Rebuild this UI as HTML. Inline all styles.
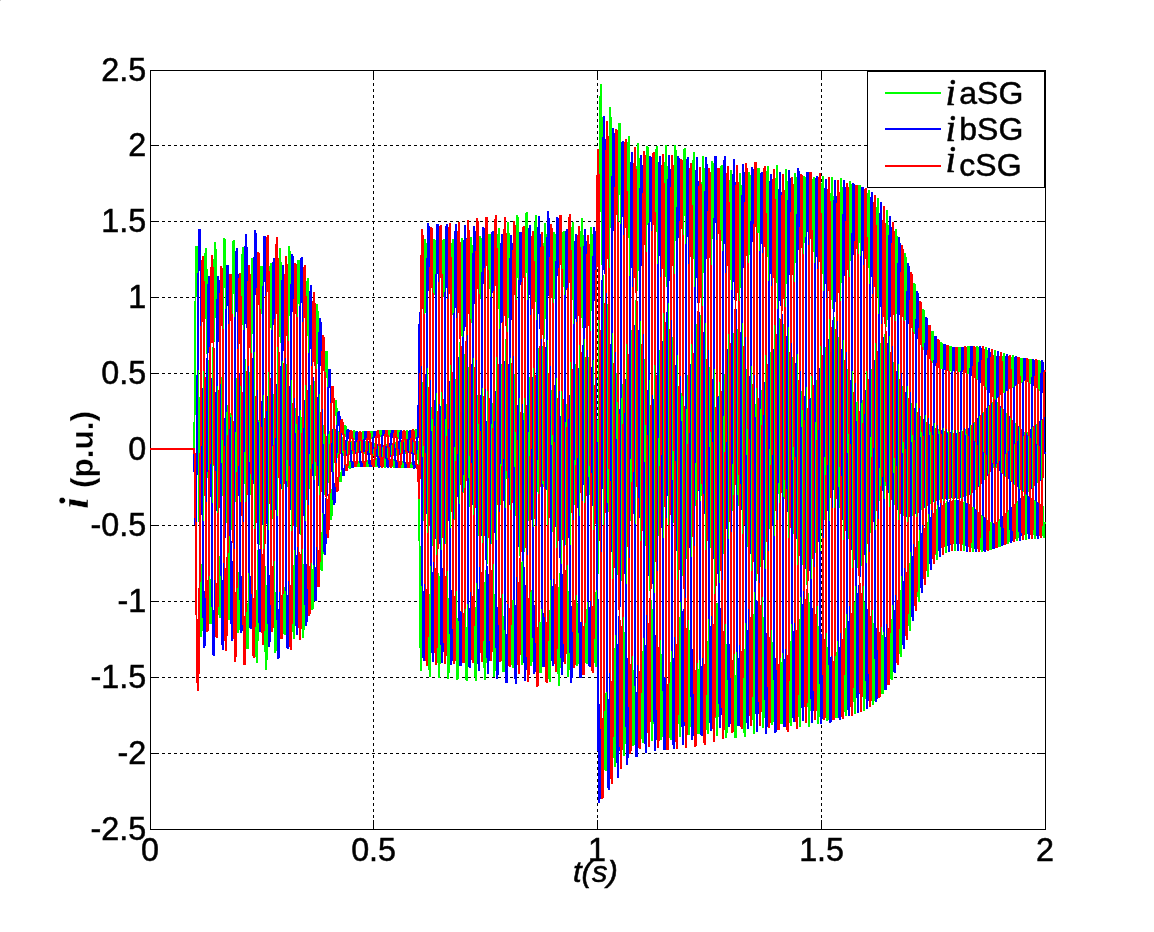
<!DOCTYPE html>
<html lang="en"><head><meta charset="utf-8"><title>i (p.u.) vs t(s)</title>
<style>
html,body{margin:0;padding:0;background:#fff;}
body{width:1154px;height:932px;overflow:hidden;font-family:"Liberation Sans",sans-serif;}
svg{display:block;}
.sans{font-family:"Liberation Sans",sans-serif;}
.serif{font-family:"Liberation Serif",serif;}
</style></head>
<body>
<svg width="1154" height="932" viewBox="0 0 1154 932">
<rect x="0" y="0" width="1154" height="932" fill="#fff"/>
<rect x="0" y="0" width="1" height="1" fill="#ccc"/>
<g shape-rendering="crispEdges">
<line x1="150" y1="145.5" x2="1045" y2="145.5" stroke="#000" stroke-width="1" stroke-dasharray="3 3"/>
<line x1="150" y1="221.5" x2="1045" y2="221.5" stroke="#000" stroke-width="1" stroke-dasharray="3 3"/>
<line x1="150" y1="297.5" x2="1045" y2="297.5" stroke="#000" stroke-width="1" stroke-dasharray="3 3"/>
<line x1="150" y1="373.5" x2="1045" y2="373.5" stroke="#000" stroke-width="1" stroke-dasharray="3 3"/>
<line x1="150" y1="449.5" x2="1045" y2="449.5" stroke="#000" stroke-width="1" stroke-dasharray="3 3"/>
<line x1="150" y1="525.5" x2="1045" y2="525.5" stroke="#000" stroke-width="1" stroke-dasharray="3 3"/>
<line x1="150" y1="601.5" x2="1045" y2="601.5" stroke="#000" stroke-width="1" stroke-dasharray="3 3"/>
<line x1="150" y1="677.5" x2="1045" y2="677.5" stroke="#000" stroke-width="1" stroke-dasharray="3 3"/>
<line x1="150" y1="753.5" x2="1045" y2="753.5" stroke="#000" stroke-width="1" stroke-dasharray="3 3"/>
<line x1="373.5" y1="830" x2="373.5" y2="70" stroke="#000" stroke-width="1" stroke-dasharray="3 3"/>
<line x1="597.5" y1="830" x2="597.5" y2="70" stroke="#000" stroke-width="1" stroke-dasharray="3 3"/>
<line x1="821.5" y1="830" x2="821.5" y2="70" stroke="#000" stroke-width="1" stroke-dasharray="3 3"/>
<rect x="150.5" y="70.5" width="895" height="759" fill="none" stroke="#000" stroke-width="1"/>
<rect x="150" y="145" width="9" height="1" fill="#000"/>
<rect x="1037" y="145" width="9" height="1" fill="#000"/>
<rect x="150" y="221" width="9" height="1" fill="#000"/>
<rect x="1037" y="221" width="9" height="1" fill="#000"/>
<rect x="150" y="297" width="9" height="1" fill="#000"/>
<rect x="1037" y="297" width="9" height="1" fill="#000"/>
<rect x="150" y="373" width="9" height="1" fill="#000"/>
<rect x="1037" y="373" width="9" height="1" fill="#000"/>
<rect x="150" y="449" width="9" height="1" fill="#000"/>
<rect x="1037" y="449" width="9" height="1" fill="#000"/>
<rect x="150" y="525" width="9" height="1" fill="#000"/>
<rect x="1037" y="525" width="9" height="1" fill="#000"/>
<rect x="150" y="601" width="9" height="1" fill="#000"/>
<rect x="1037" y="601" width="9" height="1" fill="#000"/>
<rect x="150" y="677" width="9" height="1" fill="#000"/>
<rect x="1037" y="677" width="9" height="1" fill="#000"/>
<rect x="150" y="753" width="9" height="1" fill="#000"/>
<rect x="1037" y="753" width="9" height="1" fill="#000"/>
<rect x="373" y="820" width="1" height="10" fill="#000"/>
<rect x="373" y="70" width="1" height="9" fill="#000"/>
<rect x="597" y="820" width="1" height="10" fill="#000"/>
<rect x="597" y="70" width="1" height="9" fill="#000"/>
<rect x="821" y="820" width="1" height="10" fill="#000"/>
<rect x="821" y="70" width="1" height="9" fill="#000"/>
</g>
<g shape-rendering="crispEdges">
<path fill="#00ff00" d="M150 448v2h1v-2zM151 448v2h1v-2zM152 448v2h1v-2zM153 448v2h1v-2zM154 448v2h1v-2zM155 448v2h1v-2zM156 448v2h1v-2zM157 448v2h1v-2zM158 448v2h1v-2zM159 448v2h1v-2zM160 448v2h1v-2zM161 448v2h1v-2zM162 448v2h1v-2zM163 448v2h1v-2zM164 448v2h1v-2zM165 448v2h1v-2zM166 448v2h1v-2zM167 448v2h1v-2zM168 448v2h1v-2zM169 448v2h1v-2zM170 448v2h1v-2zM171 448v2h1v-2zM172 448v2h1v-2zM173 448v2h1v-2zM174 448v2h1v-2zM175 448v2h1v-2zM176 448v2h1v-2zM177 448v2h1v-2zM178 448v2h1v-2zM179 448v2h1v-2zM180 448v2h1v-2zM181 448v2h1v-2zM182 448v2h1v-2zM183 448v2h1v-2zM184 448v2h1v-2zM185 448v2h1v-2zM186 448v2h1v-2zM187 448v2h1v-2zM188 448v2h1v-2zM189 448v2h1v-2zM190 448v2h1v-2zM191 448v2h1v-2zM192 448v2h1v-2zM193 422v28h1v-28zM194 301v149h1v-149zM195 246v169h1v-169zM196 246v51h1v-51zM197 246v145h1v-145zM198 286v236h1v-236zM199 397v219h1v-219zM200 527v110h1v-110zM201 564v73h1v-73zM202 444v187h1v-187zM203 323v237h1v-237zM204 253v185h1v-185zM205 248v71h1v-71zM206 248v106h1v-106zM207 269v209h1v-209zM208 360v223h1v-223zM209 484v140h1v-140zM210 579v45h1v-45zM211 472v152h1v-152zM212 347v229h1v-229zM213 259v207h1v-207zM214 242v100h1v-100zM215 242v76h1v-76zM216 249v187h1v-187zM217 322v230h1v-230zM218 442v173h1v-173zM219 556v62h1v-62zM220 502v116h1v-116zM221 377v215h1v-215zM222 274v222h1v-222zM223 238v133h1v-133zM224 238v50h1v-50zM225 239v160h1v-160zM226 292v231h1v-231zM227 405v201h1v-201zM228 528v92h1v-92zM229 535v85h1v-85zM230 413v196h1v-196zM231 298v232h1v-232zM232 241v166h1v-166zM233 240v54h1v-54zM234 240v132h1v-132zM235 274v228h1v-228zM236 378v226h1v-226zM237 508v125h1v-125zM238 572v61h1v-61zM239 454v176h1v-176zM240 330v238h1v-238zM241 254v194h1v-194zM242 247v78h1v-78zM243 247v106h1v-106zM244 266v218h1v-218zM245 359v241h1v-241zM246 491v158h1v-158zM247 603v46h1v-46zM248 501v148h1v-148zM249 372v234h1v-234zM250 278v217h1v-217zM251 258v108h1v-108zM252 258v76h1v-76zM253 265v194h1v-194zM254 339v246h1v-246zM255 466v191h1v-191zM256 590v73h1v-73zM257 550v113h1v-113zM258 420v221h1v-221zM259 309v236h1v-236zM260 266v148h1v-148zM261 266v48h1v-48zM262 266v162h1v-162zM263 317v244h1v-244zM264 434v218h1v-218zM265 566v104h1v-104zM266 585v85h1v-85zM267 456v204h1v-204zM268 332v248h1v-248zM269 266v184h1v-184zM270 263v65h1v-65zM271 263v126h1v-126zM272 293v226h1v-226zM273 394v228h1v-228zM274 525v128h1v-128zM275 592v61h1v-61zM276 472v179h1v-179zM277 342v246h1v-246zM278 260v206h1v-206zM279 248v89h1v-89zM280 248v95h1v-95zM281 262v207h1v-207zM282 348v235h1v-235zM283 475v159h1v-159zM284 587v48h1v-48zM285 493v142h1v-142zM286 364v231h1v-231zM287 269v218h1v-218zM288 246v113h1v-113zM289 246v70h1v-70zM290 251v186h1v-186zM291 320v240h1v-240zM292 443v189h1v-189zM293 565v74h1v-74zM294 533v106h1v-106zM295 408v210h1v-210zM296 301v226h1v-226zM297 260v142h1v-142zM298 260v44h1v-44zM299 260v151h1v-151zM300 308v227h1v-227zM301 417v204h1v-204zM302 540v98h1v-98zM303 564v74h1v-74zM304 450v180h1v-180zM305 339v220h1v-220zM306 281v163h1v-163zM307 278v58h1v-58zM308 278v102h1v-102zM309 301v188h1v-188zM310 385v193h1v-193zM311 494v116h1v-116zM312 569v41h1v-41zM313 481v128h1v-128zM314 381v186h1v-186zM315 315v161h1v-161zM316 304v74h1v-74zM317 304v60h1v-60zM318 311v139h1v-139zM319 367v163h1v-163zM320 454v116h1v-116zM321 532v39h1v-39zM322 497v74h1v-74zM323 425v129h1v-129zM324 369v126h1v-126zM325 351v72h1v-72zM326 351v27h1v-27zM327 351v79h1v-79zM328 379v104h1v-104zM329 431v85h1v-85zM330 484v36h1v-36zM331 489v31h1v-31zM332 449v67h1v-67zM333 416v72h1v-72zM334 400v49h1v-49zM335 400v16h1v-16zM336 400v31h1v-31zM337 408v50h1v-50zM338 431v46h1v-46zM339 457v25h1v-25zM340 472v10h1v-10zM341 455v27h1v-27zM342 437v36h1v-36zM343 427v29h1v-29zM344 425v13h1v-13zM345 425v12h1v-12zM346 426v25h1v-25zM347 436v27h1v-27zM348 449v19h1v-19zM349 461v8h1v-8zM350 453v16h1v-16zM351 441v24h1v-24zM352 432v22h1v-22zM353 430v12h1v-12zM354 430v10h1v-10zM355 431v21h1v-21zM356 439v23h1v-23zM357 450v17h1v-17zM358 461v6h1v-6zM359 451v16h1v-16zM360 440v23h1v-23zM361 432v21h1v-21zM362 431v10h1v-10zM363 431v11h1v-11zM364 432v22h1v-22zM365 441v23h1v-23zM366 453v14h1v-14zM367 460v7h1v-7zM368 449v18h1v-18zM369 437v25h1v-25zM370 431v19h1v-19zM371 431v8h1v-8zM372 431v13h1v-13zM373 433v23h1v-23zM374 443v22h1v-22zM375 455v12h1v-12zM376 458v9h1v-9zM377 447v20h1v-20zM378 435v25h1v-25zM379 430v18h1v-18zM380 430v7h1v-7zM381 430v16h1v-16zM382 434v25h1v-25zM383 445v22h1v-22zM384 457v11h1v-11zM385 456v12h1v-12zM386 444v22h1v-22zM387 434v24h1v-24zM388 430v15h1v-15zM389 430v7h1v-7zM390 430v19h1v-19zM391 436v25h1v-25zM392 447v20h1v-20zM393 459v9h1v-9zM394 455v13h1v-13zM395 442v23h1v-23zM396 432v24h1v-24zM397 430v13h1v-13zM398 430v9h1v-9zM399 430v21h1v-21zM400 438v25h1v-25zM401 450v18h1v-18zM402 461v7h1v-7zM403 452v16h1v-16zM404 440v24h1v-24zM405 431v23h1v-23zM406 430v11h1v-11zM407 430v11h1v-11zM408 431v22h1v-22zM409 439v25h1v-25zM410 452v16h1v-16zM411 462v6h1v-6zM412 450v18h1v-18zM413 438v25h1v-25zM414 430v21h1v-21zM415 429v10h1v-10zM416 429v14h1v-14zM417 432v28h1v-28zM418 441v100h1v-100zM419 461v187h1v-187zM420 546v125h1v-125zM421 528v143h1v-143zM422 382v256h1v-256zM423 269v252h1v-252zM424 239v136h1v-136zM425 239v74h1v-74zM426 243v205h1v-205zM427 318v271h1v-271zM428 456v214h1v-214zM429 594v83h1v-83zM430 553v124h1v-124zM431 407v246h1v-246zM432 284v262h1v-262zM433 239v161h1v-161zM434 239v56h1v-56zM435 240v183h1v-183zM436 299v268h1v-268zM437 430v233h1v-233zM438 573v105h1v-105zM439 576v102h1v-102zM440 433v231h1v-231zM441 301v269h1v-269zM442 240v186h1v-186zM443 239v58h1v-58zM444 239v158h1v-158zM445 282v262h1v-262zM446 404v249h1v-249zM447 551v128h1v-128zM448 598v81h1v-81zM449 460v213h1v-213zM450 321v272h1v-272zM451 243v209h1v-209zM452 239v76h1v-76zM453 239v134h1v-134zM454 267v253h1v-253zM455 379v261h1v-261zM456 527v153h1v-153zM457 618v62h1v-62zM458 487v192h1v-192zM459 342v272h1v-272zM460 250v229h1v-229zM461 238v98h1v-98zM462 238v110h1v-110zM463 255v238h1v-238zM464 354v269h1v-269zM465 500v180h1v-180zM466 627v54h1v-54zM467 515v166h1v-166zM468 367v266h1v-266zM469 261v246h1v-246zM470 237v124h1v-124zM471 237v86h1v-86zM472 245v218h1v-218zM473 329v273h1v-273zM474 471v206h1v-206zM475 607v74h1v-74zM476 543v138h1v-138zM477 395v255h1v-255zM478 275v261h1v-261zM479 236v152h1v-152zM480 236v63h1v-63zM481 238v193h1v-193zM482 304v272h1v-272zM483 439v229h1v-229zM484 582v98h1v-98zM485 570v110h1v-110zM486 424v239h1v-239zM487 293v271h1v-271zM488 234v183h1v-183zM489 234v55h1v-55zM490 234v162h1v-162zM491 279v265h1v-265zM492 403v249h1v-249zM493 550v127h1v-127zM494 594v83h1v-83zM495 455v216h1v-216zM496 314v275h1v-275zM497 234v213h1v-213zM498 228v81h1v-81zM499 228v130h1v-130zM500 255v250h1v-250zM501 364v264h1v-264zM502 512v160h1v-160zM503 616v56h1v-56zM504 487v185h1v-185zM505 339v273h1v-273zM506 239v240h1v-240zM507 222v111h1v-111zM508 222v96h1v-96zM509 233v227h1v-227zM510 323v272h1v-272zM511 467v198h1v-198zM512 600v68h1v-68zM513 523v145h1v-145zM514 374v259h1v-259zM515 254v262h1v-262zM516 215v152h1v-152zM517 215v63h1v-63zM518 217v193h1v-193zM519 283v273h1v-273zM520 418v233h1v-233zM521 562v103h1v-103zM522 559v106h1v-106zM523 413v237h1v-237zM524 277v275h1v-275zM525 213v192h1v-192zM526 212v61h1v-61zM527 212v158h1v-158zM528 254v267h1v-267zM529 377v259h1v-259zM530 528v138h1v-138zM531 590v76h1v-76zM532 451v211h1v-211zM533 307v278h1v-278zM534 222v222h1v-222zM535 215v87h1v-87zM536 215v126h1v-126zM537 239v253h1v-253zM538 348v273h1v-273zM539 499v174h1v-174zM540 622v51h1v-51zM541 494v179h1v-179zM542 346v272h1v-272zM543 243v244h1v-244zM544 223v116h1v-116zM545 223v96h1v-96zM546 234v230h1v-230zM547 325v280h1v-280zM548 472v207h1v-207zM549 610v72h1v-72zM550 539v143h1v-143zM551 390v259h1v-259zM552 270v262h1v-262zM553 232v150h1v-150zM554 232v67h1v-67zM555 234v200h1v-200zM556 304v277h1v-277zM557 441v233h1v-233zM558 587v99h1v-99zM559 573v113h1v-113zM560 425v243h1v-243zM561 292v275h1v-275zM562 232v186h1v-186zM563 231v56h1v-56zM564 231v165h1v-165zM565 278v267h1v-267zM566 404v249h1v-249zM567 552v125h1v-125zM568 591v86h1v-86zM569 448v222h1v-222zM570 306v279h1v-279zM571 227v213h1v-213zM572 222v78h1v-78zM573 222v135h1v-135zM574 251v254h1v-254zM575 364v262h1v-262zM576 512v154h1v-154zM577 603v63h1v-63zM578 470v194h1v-194zM579 324v274h1v-274zM580 231v232h1v-232zM581 218v100h1v-100zM582 218v110h1v-110zM583 235v238h1v-238zM584 334v271h1v-271zM585 480v183h1v-183zM586 609v55h1v-55zM587 502v162h1v-162zM588 357v261h1v-261zM589 251v244h1v-244zM590 227v123h1v-123zM591 227v84h1v-84zM592 234v215h1v-215zM593 316v270h1v-270zM594 456v207h1v-207zM595 592v75h1v-75zM596 578v89h1v-89zM597 420v219h1v-219zM598 221v353h1v-353zM599 96v314h1v-314zM600 84v128h1v-128zM601 84v181h1v-181zM602 117v371h1v-371zM603 275v410h1v-410zM604 500v270h1v-270zM605 693v78h1v-78zM606 523v248h1v-248zM607 304v395h1v-395zM608 144v368h1v-368zM609 107v186h1v-186zM610 107v121h1v-121zM611 117v315h1v-315zM612 237v402h1v-402zM613 444v314h1v-314zM614 648v119h1v-119zM615 585v182h1v-182zM616 373v358h1v-358zM617 193v382h1v-382zM618 123v239h1v-239zM619 123v72h1v-72zM620 123v250h1v-250zM621 201v380h1v-380zM622 384v343h1v-343zM623 591v165h1v-165zM624 632v124h1v-124zM625 437v307h1v-307zM626 246v378h1v-378zM627 142v284h1v-284zM628 136v102h1v-102zM629 136v184h1v-184zM630 177v344h1v-344zM631 330v358h1v-358zM632 532v214h1v-214zM633 670v76h1v-76zM634 496v249h1v-249zM635 300v364h1v-364zM636 166v320h1v-320zM637 143v148h1v-148zM638 143v128h1v-128zM639 158v303h1v-303zM640 279v364h1v-364zM641 471v268h1v-268zM642 651v92h1v-92zM643 555v188h1v-188zM644 359v339h1v-339zM645 199v347h1v-347zM646 146v203h1v-203zM647 146v79h1v-79zM648 147v251h1v-251zM649 232v359h1v-359zM650 408v312h1v-312zM651 600v141h1v-141zM652 609v132h1v-132zM653 419v305h1v-305zM654 239v361h1v-361zM655 149v260h1v-260zM656 146v86h1v-86zM657 146v194h1v-194zM658 194v342h1v-342zM659 350v342h1v-342zM660 546v194h1v-194zM661 654v86h1v-86zM662 477v260h1v-260zM663 285v362h1v-362zM664 162v305h1v-305zM665 145v132h1v-132zM666 145v142h1v-142zM667 166v313h1v-313zM668 296v359h1v-359zM669 489v249h1v-249zM670 662v78h1v-78zM671 533v207h1v-207zM672 337v347h1v-347zM673 186v337h1v-337zM674 145v182h1v-182zM675 145v96h1v-96zM676 150v270h1v-270zM677 248v361h1v-361zM678 431v293h1v-293zM679 617v120h1v-120zM680 585v152h1v-152zM681 393v318h1v-318zM682 222v354h1v-354zM683 149v233h1v-233zM684 148v68h1v-68zM685 148v217h1v-217zM686 211v348h1v-348zM687 375v326h1v-326zM688 568v167h1v-167zM689 630v105h1v-105zM690 450v277h1v-277zM691 266v357h1v-357zM692 160v280h1v-280zM693 152v107h1v-107zM694 152v163h1v-163zM695 184v322h1v-322zM696 324v346h1v-346zM697 516v218h1v-218zM698 669v65h1v-65zM699 506v228h1v-228zM700 315v348h1v-348zM701 182v314h1v-314zM702 156v151h1v-151zM703 156v117h1v-117zM704 168v288h1v-288zM705 281v353h1v-353zM706 466v264h1v-264zM707 641v93h1v-93zM708 557v177h1v-177zM709 367v327h1v-327zM710 212v336h1v-336zM711 161v196h1v-196zM712 161v78h1v-78zM713 163v245h1v-245zM714 246v349h1v-349zM715 418v300h1v-300zM716 603v133h1v-133zM717 603v133h1v-133zM718 418v299h1v-299zM719 248v347h1v-347zM720 166v242h1v-242zM721 165v76h1v-76zM722 165v199h1v-199zM723 218v336h1v-336zM724 374v325h1v-325zM725 563v175h1v-175zM726 644v94h1v-94zM727 469v264h1v-264zM728 288v348h1v-348zM729 180v279h1v-279zM730 170v110h1v-110zM731 170v154h1v-154zM732 199v312h1v-312zM733 333v340h1v-340zM734 521v217h1v-217zM735 675v63h1v-63zM736 515v223h1v-223zM737 329v340h1v-340zM738 198v308h1v-308zM739 173v147h1v-147zM740 173v115h1v-115zM741 185v283h1v-283zM742 296v346h1v-346zM743 478v255h1v-255zM744 649v88h1v-88zM745 556v181h1v-181zM746 369v325h1v-325zM747 219v328h1v-328zM748 172v187h1v-187zM749 172v83h1v-83zM750 175v249h1v-249zM751 262v344h1v-344zM752 434v286h1v-286zM753 614v120h1v-120zM754 590v144h1v-144zM755 404v306h1v-306zM756 239v342h1v-342zM757 168v227h1v-227zM758 168v65h1v-65zM759 168v213h1v-213zM760 230v337h1v-337zM761 390v311h1v-311zM762 576v152h1v-152zM763 617v111h1v-111zM764 439v279h1v-279zM765 264v346h1v-346zM766 171v258h1v-258zM767 166v91h1v-91zM768 166v176h1v-176zM769 207v322h1v-322zM770 352v326h1v-326zM771 538v187h1v-187zM772 642v83h1v-83zM773 473v249h1v-249zM774 291v344h1v-344zM775 178v285h1v-285zM776 165v118h1v-118zM777 165v144h1v-144zM778 189v305h1v-305zM779 318v338h1v-338zM780 503v221h1v-221zM781 662v62h1v-62zM782 508v216h1v-216zM783 324v335h1v-335zM784 194v305h1v-305zM785 169v146h1v-146zM786 169v115h1v-115zM787 181v282h1v-282zM788 292v343h1v-343zM789 473v250h1v-250zM790 641v85h1v-85zM791 543v183h1v-183zM792 357v324h1v-324zM793 213v321h1v-321zM794 173v175h1v-175zM795 173v90h1v-90zM796 177v256h1v-256zM797 269v342h1v-342zM798 443v274h1v-274zM799 619v108h1v-108zM800 574v153h1v-153zM801 391v307h1v-307zM802 235v330h1v-330zM803 176v205h1v-205zM804 176v67h1v-67zM805 177v226h1v-226zM806 249v336h1v-336zM807 412v295h1v-295zM808 593v134h1v-134zM809 602v125h1v-125zM810 424v287h1v-287zM811 258v336h1v-336zM812 179v235h1v-235zM813 177v75h1v-75zM814 177v194h1v-194zM815 229v324h1v-324zM816 380v310h1v-310zM817 562v162h1v-162zM818 626v98h1v-98zM819 455v262h1v-262zM820 281v338h1v-338zM821 183v262h1v-262zM822 176v98h1v-98zM823 176v162h1v-162zM824 210v310h1v-310zM825 347v323h1v-323zM826 529v192h1v-192zM827 647v74h1v-74zM828 486v234h1v-234zM829 308v333h1v-333zM830 193v283h1v-283zM831 177v123h1v-123zM832 177v132h1v-132zM833 196v290h1v-290zM834 317v330h1v-330zM835 496v222h1v-222zM836 652v66h1v-66zM837 517v201h1v-201zM838 337v324h1v-324zM839 206v302h1v-302zM840 178v150h1v-150zM841 178v105h1v-105zM842 187v266h1v-266zM843 290v331h1v-331zM844 463v249h1v-249zM845 628v88h1v-88zM846 547v169h1v-169zM847 369v308h1v-308zM848 226v313h1v-313zM849 181v179h1v-179zM850 181v80h1v-80zM851 184v238h1v-238zM852 267v328h1v-328zM853 431v271h1v-271zM854 602v112h1v-112zM855 576v138h1v-138zM856 402v289h1v-289zM857 248v320h1v-320zM858 185v208h1v-208zM859 185v58h1v-58zM860 185v206h1v-206zM861 248v318h1v-318zM862 400v287h1v-287zM863 573v138h1v-138zM864 602v109h1v-109zM865 434v265h1v-265zM866 274v320h1v-320zM867 193v232h1v-232zM868 190v78h1v-78zM869 190v171h1v-171zM870 232v301h1v-301zM871 369v298h1v-298zM872 541v164h1v-164zM873 623v82h1v-82zM874 467v234h1v-234zM875 304v312h1v-312zM876 207v251h1v-251zM877 198v99h1v-99zM878 198v138h1v-138zM879 224v277h1v-277zM880 343v298h1v-298zM881 509v185h1v-185zM882 635v59h1v-59zM883 494v200h1v-200zM884 334v296h1v-296zM885 227v259h1v-259zM886 210v117h1v-117zM887 210v110h1v-110zM888 225v249h1v-249zM889 327v287h1v-287zM890 482v197h1v-197zM891 619v61h1v-61zM892 513v167h1v-167zM893 362v271h1v-271zM894 253v252h1v-252zM895 229v126h1v-126zM896 229v85h1v-85zM897 236v216h1v-216zM898 320v265h1v-265zM899 459v195h1v-195zM900 590v67h1v-67zM901 522v135h1v-135zM902 386v239h1v-239zM903 281v235h1v-235zM904 253v127h1v-127zM905 253v67h1v-67zM906 257v182h1v-182zM907 324v235h1v-235zM908 445v181h1v-181zM909 563v68h1v-68zM910 521v110h1v-110zM911 403v204h1v-204zM912 310v206h1v-206zM913 283v115h1v-115zM914 283v51h1v-51zM915 284v150h1v-150zM916 337v200h1v-200zM917 439v158h1v-158zM918 541v61h1v-61zM919 514v88h1v-88zM920 416v169h1v-169zM921 336v174h1v-174zM922 309v103h1v-103zM923 309v41h1v-41zM924 310v122h1v-122zM925 352v167h1v-167zM926 436v135h1v-135zM927 522v55h1v-55zM928 507v70h1v-70zM929 424v140h1v-140zM930 355v149h1v-149zM931 331v90h1v-90zM932 331v32h1v-32zM933 331v101h1v-101zM934 364v143h1v-143zM935 435v120h1v-120zM936 509v51h1v-51zM937 502v58h1v-58zM938 429v122h1v-122zM939 366v134h1v-134zM940 342v85h1v-85zM941 342v27h1v-27zM942 343v88h1v-88zM943 370v131h1v-131zM944 434v113h1v-113zM945 503v50h1v-50zM946 501v52h1v-52zM947 432v114h1v-114zM948 371v128h1v-128zM949 346v83h1v-83zM950 346v25h1v-25zM951 346v84h1v-84zM952 372v127h1v-127zM953 433v111h1v-111zM954 500v51h1v-51zM955 500v51h1v-51zM956 433v111h1v-111zM957 372v127h1v-127zM958 347v83h1v-83zM959 347v25h1v-25zM960 347v84h1v-84zM961 373v127h1v-127zM962 434v111h1v-111zM963 502v49h1v-49zM964 498v53h1v-53zM965 429v115h1v-115zM966 369v127h1v-127zM967 346v81h1v-81zM968 346v28h1v-28zM969 346v90h1v-90zM970 375v130h1v-130zM971 438v110h1v-110zM972 507v45h1v-45zM973 492v60h1v-60zM974 422v120h1v-120zM975 364v126h1v-126zM976 346v73h1v-73zM977 346v34h1v-34zM978 347v99h1v-99zM979 382v131h1v-131zM980 448v102h1v-102zM981 515v37h1v-37zM982 483v69h1v-69zM983 412v124h1v-124zM984 359v121h1v-121zM985 347v62h1v-62zM986 347v43h1v-43zM987 350v107h1v-107zM988 391v129h1v-129zM989 459v91h1v-91zM990 522v28h1v-28zM991 470v80h1v-80zM992 402v126h1v-126zM993 356v112h1v-112zM994 350v50h1v-50zM995 350v51h1v-51zM996 357v111h1v-111zM997 402v124h1v-124zM998 470v77h1v-77zM999 519v28h1v-28zM1000 460v87h1v-87zM1001 395v123h1v-123zM1002 356v101h1v-101zM1003 353v40h1v-40zM1004 353v58h1v-58zM1005 364v113h1v-113zM1006 413v116h1v-116zM1007 479v65h1v-65zM1008 510v34h1v-34zM1009 450v92h1v-92zM1010 389v120h1v-120zM1011 357v90h1v-90zM1012 355v33h1v-33zM1013 355v66h1v-66zM1014 371v114h1v-114zM1015 423v108h1v-108zM1016 486v55h1v-55zM1017 501v40h1v-40zM1018 440v98h1v-98zM1019 383v117h1v-117zM1020 358v80h1v-80zM1021 358v25h1v-25zM1022 358v72h1v-72zM1023 378v114h1v-114zM1024 432v102h1v-102zM1025 494v46h1v-46zM1026 493v47h1v-47zM1027 432v101h1v-101zM1028 379v113h1v-113zM1029 359v71h1v-71zM1030 359v25h1v-25zM1031 359v80h1v-80zM1032 385v114h1v-114zM1033 441v94h1v-94zM1034 500v39h1v-39zM1035 485v54h1v-54zM1036 424v105h1v-105zM1037 374v109h1v-109zM1038 360v62h1v-62zM1039 360v31h1v-31zM1040 361v86h1v-86zM1041 391v114h1v-114zM1042 449v87h1v-87zM1043 506v32h1v-32zM1044 522v16h1v-16zM1045 522v2h1v-2z"/>
<path fill="#0000ff" d="M150 448v2h1v-2zM151 448v2h1v-2zM152 448v2h1v-2zM153 448v2h1v-2zM154 448v2h1v-2zM155 448v2h1v-2zM156 448v2h1v-2zM157 448v2h1v-2zM158 448v2h1v-2zM159 448v2h1v-2zM160 448v2h1v-2zM161 448v2h1v-2zM162 448v2h1v-2zM163 448v2h1v-2zM164 448v2h1v-2zM165 448v2h1v-2zM166 448v2h1v-2zM167 448v2h1v-2zM168 448v2h1v-2zM169 448v2h1v-2zM170 448v2h1v-2zM171 448v2h1v-2zM172 448v2h1v-2zM173 448v2h1v-2zM174 448v2h1v-2zM175 448v2h1v-2zM176 448v2h1v-2zM177 448v2h1v-2zM178 448v2h1v-2zM179 448v2h1v-2zM180 448v2h1v-2zM181 448v2h1v-2zM182 448v2h1v-2zM183 448v2h1v-2zM184 448v2h1v-2zM185 448v2h1v-2zM186 448v2h1v-2zM187 448v2h1v-2zM188 448v2h1v-2zM189 448v2h1v-2zM190 448v2h1v-2zM191 448v2h1v-2zM192 448v2h1v-2zM193 448v24h1v-24zM194 448v77h1v-77zM195 476v49h1v-49zM196 375v150h1v-150zM197 273v202h1v-202zM198 229v141h1v-141zM199 229v42h1v-42zM200 229v153h1v-153zM201 275v240h1v-240zM202 388v230h1v-230zM203 521v127h1v-127zM204 591v57h1v-57zM205 478v168h1v-168zM206 358v229h1v-229zM207 284v188h1v-188zM208 276v77h1v-77zM209 276v97h1v-97zM210 292v205h1v-205zM211 378v229h1v-229zM212 503v152h1v-152zM213 610v46h1v-46zM214 517v139h1v-139zM215 392v224h1v-224zM216 299v212h1v-212zM217 276v110h1v-110zM218 276v66h1v-66zM219 280v178h1v-178zM220 346v230h1v-230zM221 463v182h1v-182zM222 580v70h1v-70zM223 544v106h1v-106zM224 418v212h1v-212zM225 309v229h1v-229zM226 265v147h1v-147zM227 265v41h1v-41zM228 265v147h1v-147zM229 309v227h1v-227zM230 417v207h1v-207zM231 541v100h1v-100zM232 561v80h1v-80zM233 438v195h1v-195zM234 317v240h1v-240zM235 251v181h1v-181zM236 248v64h1v-64zM237 248v119h1v-119zM238 274v222h1v-222zM239 373v227h1v-227zM240 502v131h1v-131zM241 576v57h1v-57zM242 459v172h1v-172zM243 330v242h1v-242zM244 246v206h1v-206zM245 234v90h1v-90zM246 234v94h1v-94zM247 247v208h1v-208zM248 333v240h1v-240zM249 462v166h1v-166zM250 576v53h1v-53zM251 490v139h1v-139zM252 358v233h1v-233zM253 257v227h1v-227zM254 230v122h1v-122zM255 230v65h1v-65zM256 233v183h1v-183zM257 299v245h1v-245zM258 422v201h1v-201zM259 549v83h1v-83zM260 531v101h1v-101zM261 401v215h1v-215zM262 286v239h1v-239zM263 236v159h1v-159zM264 236v46h1v-46zM265 236v153h1v-153zM266 281v243h1v-243zM267 396v228h1v-228zM268 530v117h1v-117zM269 575v72h1v-72zM270 453v189h1v-189zM271 330v241h1v-241zM272 262v184h1v-184zM273 258v67h1v-67zM274 258v120h1v-120zM275 284v226h1v-226zM276 384v236h1v-236zM277 516v143h1v-143zM278 609v50h1v-50zM279 495v163h1v-163zM280 366v239h1v-239zM281 280v209h1v-209zM282 265v96h1v-96zM283 265v86h1v-86zM284 276v199h1v-199zM285 356v235h1v-235zM286 481v167h1v-167zM287 595v54h1v-54zM288 516v133h1v-133zM289 386v229h1v-229zM290 284v226h1v-226zM291 254v126h1v-126zM292 254v58h1v-58zM293 256v171h1v-171zM294 316v234h1v-234zM295 433v193h1v-193zM296 555v80h1v-80zM297 539v96h1v-96zM298 416v203h1v-203zM299 306v228h1v-228zM300 258v152h1v-152zM301 257v46h1v-46zM302 257v137h1v-137zM303 297v219h1v-219zM304 400v205h1v-205zM305 521v105h1v-105zM306 564v62h1v-62zM307 459v163h1v-163zM308 353v208h1v-208zM309 291v163h1v-163zM310 285v64h1v-64zM311 285v88h1v-88zM312 302v174h1v-174zM313 377v188h1v-188zM314 480v121h1v-121zM315 567v34h1v-34zM316 490v111h1v-111zM317 397v170h1v-170zM318 332v154h1v-154zM319 318v76h1v-76zM320 318v48h1v-48zM321 322v119h1v-119zM322 368v145h1v-145zM323 444v108h1v-108zM324 514v41h1v-41zM325 498v57h1v-57zM326 436v108h1v-108zM327 387v109h1v-109zM328 369v65h1v-65zM329 369v19h1v-19zM330 369v59h1v-59zM331 388v84h1v-84zM332 429v71h1v-71zM333 472v33h1v-33zM334 483v22h1v-22zM335 453v50h1v-50zM336 425v58h1v-58zM337 412v41h1v-41zM338 411v15h1v-15zM339 411v22h1v-22zM340 416v38h1v-38zM341 433v37h1v-37zM342 453v23h1v-23zM343 468v8h1v-8zM344 455v21h1v-21zM345 440v29h1v-29zM346 430v26h1v-26zM347 429v12h1v-12zM348 429v10h1v-10zM349 430v21h1v-21zM350 437v25h1v-25zM351 450v18h1v-18zM352 461v7h1v-7zM353 453v15h1v-15zM354 441v23h1v-23zM355 432v22h1v-22zM356 431v11h1v-11zM357 431v10h1v-10zM358 432v20h1v-20zM359 439v24h1v-24zM360 451v16h1v-16zM361 461v6h1v-6zM362 451v16h1v-16zM363 439v24h1v-24zM364 431v21h1v-21zM365 431v9h1v-9zM366 431v12h1v-12zM367 432v23h1v-23zM368 441v23h1v-23zM369 453v14h1v-14zM370 460v7h1v-7zM371 448v19h1v-19zM372 437v24h1v-24zM373 431v18h1v-18zM374 431v7h1v-7zM375 431v14h1v-14zM376 434v23h1v-23zM377 444v22h1v-22zM378 456v12h1v-12zM379 458v10h1v-10zM380 446v21h1v-21zM381 435v24h1v-24zM382 430v17h1v-17zM383 430v6h1v-6zM384 430v17h1v-17zM385 435v24h1v-24zM386 446v21h1v-21zM387 458v10h1v-10zM388 456v12h1v-12zM389 443v23h1v-23zM390 433v24h1v-24zM391 430v15h1v-15zM392 430v8h1v-8zM393 430v19h1v-19zM394 436v25h1v-25zM395 448v20h1v-20zM396 460v8h1v-8zM397 454v14h1v-14zM398 441v24h1v-24zM399 432v23h1v-23zM400 430v12h1v-12zM401 430v9h1v-9zM402 431v21h1v-21zM403 438v25h1v-25zM404 450v18h1v-18zM405 462v6h1v-6zM406 452v16h1v-16zM407 439v25h1v-25zM408 431v22h1v-22zM409 430v10h1v-10zM410 430v11h1v-11zM411 431v23h1v-23zM412 440v25h1v-25zM413 453v16h1v-16zM414 461v8h1v-8zM415 449v19h1v-19zM416 437v26h1v-26zM417 405v45h1v-45zM418 324v114h1v-114zM419 312v90h1v-90zM420 312v138h1v-138zM421 329v257h1v-257zM422 457v201h1v-201zM423 591v70h1v-70zM424 521v140h1v-140zM425 374v254h1v-254zM426 258v256h1v-256zM427 223v145h1v-145zM428 223v68h1v-68zM429 226v198h1v-198zM430 296v270h1v-270zM431 431v222h1v-222zM432 572v90h1v-90zM433 545v117h1v-117zM434 400v242h1v-242zM435 274v265h1v-265zM436 224v169h1v-169zM437 224v50h1v-50zM438 224v175h1v-175zM439 278v266h1v-266zM440 406v239h1v-239zM441 550v113h1v-113zM442 568v95h1v-95zM443 427v225h1v-225zM444 292v271h1v-271zM445 226v193h1v-193zM446 224v64h1v-64zM447 224v150h1v-150zM448 262v259h1v-259zM449 381v253h1v-253zM450 528v137h1v-137zM451 590v75h1v-75zM452 454v207h1v-207zM453 313v272h1v-272zM454 231v216h1v-216zM455 224v84h1v-84zM456 224v126h1v-126zM457 249v248h1v-248zM458 357v264h1v-264zM459 504v162h1v-162zM460 611v55h1v-55zM461 482v184h1v-184zM462 337v269h1v-269zM463 240v235h1v-235zM464 225v106h1v-106zM465 225v102h1v-102zM466 238v232h1v-232zM467 333v271h1v-271zM468 478v189h1v-189zM469 608v60h1v-60zM470 512v156h1v-156zM471 364v263h1v-263zM472 253v252h1v-252zM473 226v132h1v-132zM474 226v78h1v-78zM475 231v211h1v-211zM476 309v274h1v-274zM477 450v214h1v-214zM478 589v82h1v-82zM479 542v129h1v-129zM480 395v250h1v-250zM481 272v264h1v-264zM482 227v161h1v-161zM483 227v57h1v-57zM484 228v185h1v-185zM485 288v272h1v-272zM486 421v237h1v-237zM487 566v108h1v-108zM488 574v100h1v-100zM489 431v230h1v-230zM490 297v271h1v-271zM491 232v192h1v-192zM492 231v62h1v-62zM493 231v153h1v-153zM494 271v262h1v-262zM495 391v257h1v-257zM496 540v139h1v-139zM497 607v72h1v-72zM498 471v204h1v-204zM499 329v273h1v-273zM500 243v221h1v-221zM501 234v89h1v-89zM502 234v120h1v-120zM503 256v245h1v-245zM504 361v269h1v-269zM505 508v175h1v-175zM506 634v49h1v-49zM507 512v171h1v-171zM508 364v268h1v-268zM509 258v247h1v-247zM510 235v123h1v-123zM511 235v85h1v-85zM512 243v217h1v-217zM513 326v274h1v-274zM514 467v212h1v-212zM515 605v79h1v-79zM516 554v130h1v-130zM517 405v252h1v-252zM518 280v267h1v-267zM519 232v166h1v-166zM520 232v53h1v-53zM521 232v181h1v-181zM522 290v271h1v-271zM523 420v243h1v-243zM524 567v114h1v-114zM525 585v96h1v-96zM526 440v230h1v-230zM527 300v279h1v-279zM528 228v204h1v-204zM529 225v70h1v-70zM530 225v145h1v-145zM531 259v261h1v-261zM532 377v261h1v-261zM533 527v147h1v-147zM534 605v69h1v-69zM535 468v204h1v-204zM536 320v280h1v-280zM537 227v233h1v-233zM538 216v98h1v-98zM539 216v113h1v-113zM540 234v243h1v-243zM541 336v273h1v-273zM542 484v183h1v-183zM543 613v54h1v-54zM544 498v169h1v-169zM545 347v271h1v-271zM546 237v253h1v-253zM547 211v129h1v-129zM548 211v85h1v-85zM549 218v219h1v-219zM550 301v279h1v-279zM551 445v216h1v-216zM552 586v80h1v-80zM553 534v132h1v-132zM554 385v254h1v-254zM555 261v266h1v-266zM556 217v161h1v-161zM557 217v59h1v-59zM558 218v190h1v-190zM559 281v277h1v-277zM560 416v242h1v-242zM561 564v111h1v-111zM562 574v101h1v-101zM563 430v232h1v-232zM564 295v273h1v-273zM565 231v191h1v-191zM566 229v61h1v-61zM567 229v159h1v-159zM568 271v267h1v-267zM569 395v258h1v-258zM570 545v138h1v-138zM571 606v77h1v-77zM572 468v210h1v-210zM573 324v277h1v-277zM574 241v219h1v-219zM575 234v85h1v-85zM576 234v127h1v-127zM577 259v249h1v-249zM578 368v265h1v-265zM579 516v162h1v-162zM580 622v56h1v-56zM581 492v186h1v-186zM582 345v272h1v-272zM583 246v239h1v-239zM584 229v110h1v-110zM585 229v99h1v-99zM586 241v229h1v-229zM587 334v268h1v-268zM588 477v189h1v-189zM589 607v60h1v-60zM590 513v154h1v-154zM591 367v259h1v-259zM592 256v250h1v-250zM593 227v133h1v-133zM594 227v74h1v-74zM595 231v204h1v-204zM596 306v284h1v-284zM597 442v309h1v-309zM598 599v204h1v-204zM599 704v99h1v-99zM600 502v297h1v-297zM601 280v416h1v-416zM602 137v352h1v-352zM603 116v154h1v-154zM604 116v158h1v-158zM605 139v352h1v-352zM606 284v408h1v-408zM607 503v285h1v-285zM608 699v91h1v-91zM609 563v227h1v-227zM610 344v386h1v-386zM611 176v376h1v-376zM612 128v205h1v-205zM613 128v103h1v-103zM614 133v294h1v-294zM615 239v396h1v-396zM616 439v324h1v-324zM617 644v134h1v-134zM618 616v162h1v-162zM619 409v342h1v-342zM620 224v383h1v-383zM621 142v256h1v-256zM622 141v76h1v-76zM623 141v227h1v-227zM624 206v368h1v-368zM625 379v348h1v-348zM626 584v181h1v-181zM627 658v107h1v-107zM628 470v288h1v-288zM629 276v374h1v-374zM630 162v297h1v-297zM631 152v116h1v-116zM632 152v164h1v-164zM633 183v331h1v-331zM634 325v361h1v-361zM635 524v233h1v-233zM636 692v65h1v-65zM637 528v229h1v-229zM638 330v358h1v-358zM639 188v330h1v-330zM640 155v166h1v-166zM641 155v111h1v-111zM642 165v286h1v-286zM643 274v364h1v-364zM644 462v282h1v-282zM645 645v108h1v-108zM646 585v168h1v-168zM647 390v329h1v-329zM648 223v353h1v-353zM649 156v224h1v-224zM650 156v66h1v-66zM651 157v231h1v-231zM652 228v356h1v-356zM653 399v323h1v-323zM654 593v158h1v-158zM655 635v116h1v-116zM656 449v291h1v-291zM657 264v363h1v-363zM658 162v276h1v-276zM659 156v100h1v-100zM660 156v176h1v-176zM661 194v334h1v-334zM662 341v350h1v-350zM663 538v212h1v-212zM664 677v73h1v-73zM665 506v244h1v-244zM666 312v359h1v-359zM667 179v317h1v-317zM668 155v148h1v-148zM669 155v126h1v-126zM670 169v301h1v-301zM671 289v362h1v-362zM672 480v265h1v-265zM673 658v91h1v-91zM674 561v188h1v-188zM675 365v339h1v-339zM676 207v344h1v-344zM677 156v199h1v-199zM678 156v82h1v-82zM679 158v253h1v-253zM680 245v357h1v-357zM681 421v306h1v-306zM682 611v134h1v-134zM683 609v136h1v-136zM684 420v306h1v-306zM685 244v356h1v-356zM686 159v250h1v-250zM687 157v80h1v-80zM688 157v197h1v-197zM689 208v340h1v-340zM690 364v333h1v-333zM691 557v183h1v-183zM692 649v91h1v-91zM693 474v262h1v-262zM694 287v355h1v-355zM695 170v293h1v-293zM696 157v121h1v-121zM697 157v146h1v-146zM698 181v310h1v-310zM699 312v348h1v-348zM700 501v234h1v-234zM701 666v70h1v-70zM702 524v212h1v-212zM703 332v343h1v-343zM704 191v323h1v-323zM705 157v166h1v-166zM706 157v102h1v-102zM707 164v273h1v-273zM708 267v352h1v-352zM709 447v276h1v-276zM710 626v105h1v-105zM711 568v163h1v-163zM712 379v320h1v-320zM713 218v341h1v-341zM714 156v213h1v-213zM715 156v67h1v-67zM716 156v230h1v-230zM717 229v345h1v-345zM718 396v308h1v-308zM719 583v145h1v-145zM720 608v120h1v-120zM721 426v289h1v-289zM722 251v350h1v-350zM723 160v256h1v-256zM724 156v88h1v-88zM725 156v184h1v-184zM726 200v329h1v-329zM727 349v331h1v-331zM728 539v188h1v-188zM729 644v83h1v-83zM730 474v250h1v-250zM731 290v347h1v-347zM732 174v290h1v-290zM733 159v123h1v-123zM734 159v141h1v-141zM735 182v303h1v-303zM736 309v343h1v-343zM737 495v231h1v-231zM738 658v68h1v-68zM739 519v207h1v-207zM740 332v336h1v-336zM741 195v315h1v-315zM742 164v159h1v-159zM743 164v104h1v-104zM744 172v273h1v-273zM745 276v347h1v-347zM746 455v268h1v-268zM747 630v99h1v-99zM748 563v166h1v-166zM749 376v318h1v-318zM750 221v333h1v-333zM751 167v199h1v-199zM752 167v75h1v-75zM753 169v238h1v-238zM754 248v344h1v-344zM755 417v297h1v-297zM756 600v132h1v-132zM757 601v131h1v-131zM758 418v296h1v-296zM759 251v342h1v-342zM760 173v236h1v-236zM761 172v72h1v-72zM762 172v201h1v-201zM763 227v333h1v-333zM764 382v318h1v-318zM765 569v165h1v-165zM766 633v101h1v-101zM767 459v268h1v-268zM768 281v345h1v-345zM769 181v268h1v-268zM770 174v100h1v-100zM771 174v166h1v-166zM772 209v317h1v-317zM773 349v331h1v-331zM774 536v197h1v-197zM775 658v75h1v-75zM776 493v239h1v-239zM777 309v343h1v-343zM778 189v294h1v-294zM779 172v129h1v-129zM780 172v134h1v-134zM781 192v296h1v-296zM782 314v339h1v-339zM783 497v230h1v-230zM784 659v68h1v-68zM785 522v205h1v-205zM786 336v333h1v-333zM787 200v312h1v-312zM788 170v157h1v-157zM789 170v105h1v-105zM790 178v272h1v-272zM791 283v341h1v-341zM792 460v258h1v-258zM793 631v91h1v-91zM794 548v174h1v-174zM795 363v320h1v-320zM796 214v325h1v-325zM797 168v186h1v-186zM798 168v82h1v-82zM799 171v246h1v-246zM800 256v341h1v-341zM801 427v281h1v-281zM802 604v117h1v-117zM803 578v143h1v-143zM804 396v301h1v-301zM805 237v332h1v-332zM806 172v215h1v-215zM807 172v60h1v-60zM808 172v216h1v-216zM809 238v333h1v-333zM810 398v301h1v-301zM811 579v144h1v-144zM812 608v115h1v-115zM813 432v279h1v-279zM814 263v337h1v-337zM815 178v244h1v-244zM816 176v81h1v-81zM817 176v183h1v-183zM818 221v321h1v-321zM819 368v316h1v-316zM820 551v173h1v-173zM821 634v90h1v-90zM822 467v252h1v-252zM823 291v337h1v-337zM824 188v269h1v-269zM825 179v105h1v-105zM826 179v152h1v-152zM827 207v304h1v-304zM828 339v326h1v-326zM829 521v202h1v-202zM830 657v66h1v-66zM831 499v223h1v-223zM832 320v331h1v-331zM833 200v290h1v-290zM834 180v132h1v-132zM835 180v122h1v-122zM836 196v282h1v-282zM837 310v331h1v-331zM838 487v231h1v-231zM839 647v73h1v-73zM840 529v191h1v-191zM841 349v320h1v-320zM842 214v306h1v-306zM843 180v160h1v-160zM844 180v96h1v-96zM845 187v257h1v-257zM846 283v331h1v-331zM847 453v257h1v-257zM848 621v95h1v-95zM849 558v158h1v-158zM850 380v303h1v-303zM851 233v317h1v-317zM852 183v188h1v-188zM853 183v72h1v-72zM854 184v228h1v-228zM855 261v325h1v-325zM856 421v277h1v-277zM857 593v120h1v-120zM858 585v128h1v-128zM859 412v282h1v-282zM860 256v321h1v-321zM861 187v216h1v-216zM862 187v64h1v-64zM863 187v194h1v-194zM864 242v313h1v-313zM865 390v291h1v-291zM866 563v146h1v-146zM867 609v100h1v-100zM868 446v255h1v-255zM869 284v319h1v-319zM870 197v240h1v-240zM871 192v85h1v-85zM872 192v160h1v-160zM873 228v294h1v-294zM874 360v299h1v-299zM875 530v172h1v-172zM876 628v74h1v-74zM877 477v222h1v-222zM878 314v308h1v-308zM879 213v255h1v-255zM880 202v105h1v-105zM881 202v127h1v-127zM882 223v268h1v-268zM883 337v295h1v-295zM884 499v191h1v-191zM885 637v53h1v-53zM886 501v189h1v-189zM887 343v289h1v-289zM888 235v258h1v-258zM889 216v120h1v-120zM890 216v101h1v-101zM891 227v239h1v-239zM892 323v282h1v-282zM893 473v199h1v-199zM894 610v63h1v-63zM895 517v156h1v-156zM896 371v261h1v-261zM897 263v247h1v-247zM898 237v127h1v-127zM899 237v78h1v-78zM900 243v203h1v-203zM901 320v256h1v-256zM902 453v192h1v-192zM903 581v68h1v-68zM904 523v126h1v-126zM905 392v228h1v-228zM906 291v226h1v-226zM907 263v123h1v-123zM908 263v61h1v-61zM909 266v171h1v-171zM910 328v224h1v-224zM911 442v175h1v-175zM912 556v65h1v-65zM913 519v102h1v-102zM914 408v191h1v-191zM915 319v195h1v-195zM916 291v112h1v-112zM917 291v48h1v-48zM918 293v140h1v-140zM919 342v188h1v-188zM920 437v151h1v-151zM921 533v60h1v-60zM922 512v81h1v-81zM923 419v159h1v-159zM924 343v165h1v-165zM925 317v98h1v-98zM926 317v38h1v-38zM927 318v114h1v-114zM928 357v157h1v-157zM929 435v129h1v-129zM930 517v53h1v-53zM931 505v65h1v-65zM932 426v133h1v-133zM933 360v142h1v-142zM934 336v87h1v-87zM935 336v30h1v-30zM936 336v96h1v-96zM937 367v138h1v-138zM938 434v117h1v-117zM939 507v50h1v-50zM940 501v56h1v-56zM941 430v118h1v-118zM942 369v130h1v-130zM943 344v84h1v-84zM944 344v26h1v-26zM945 344v87h1v-87zM946 371v129h1v-129zM947 433v113h1v-113zM948 502v50h1v-50zM949 500v52h1v-52zM950 432v113h1v-113zM951 372v126h1v-126zM952 347v83h1v-83zM953 347v24h1v-24zM954 347v83h1v-83zM955 372v126h1v-126zM956 433v111h1v-111zM957 500v51h1v-51zM958 500v51h1v-51zM959 432v112h1v-112zM960 371v127h1v-127zM961 347v83h1v-83zM962 347v25h1v-25zM963 347v85h1v-85zM964 373v128h1v-128zM965 435v111h1v-111zM966 503v49h1v-49zM967 497v55h1v-55zM968 428v115h1v-115zM969 368v127h1v-127zM970 346v79h1v-79zM971 346v30h1v-30zM972 346v93h1v-93zM973 377v130h1v-130zM974 441v108h1v-108zM975 509v43h1v-43zM976 489v63h1v-63zM977 418v122h1v-122zM978 362v125h1v-125zM979 346v70h1v-70zM980 346v37h1v-37zM981 348v101h1v-101zM982 384v132h1v-132zM983 452v99h1v-99zM984 517v35h1v-35zM985 479v73h1v-73zM986 408v126h1v-126zM987 358v118h1v-118zM988 348v58h1v-58zM989 348v45h1v-45zM990 352v109h1v-109zM991 395v127h1v-127zM992 463v86h1v-86zM993 523v26h1v-26zM994 467v82h1v-82zM995 400v124h1v-124zM996 356v108h1v-108zM997 351v47h1v-47zM998 351v53h1v-53zM999 359v112h1v-112zM1000 406v121h1v-121zM1001 473v73h1v-73zM1002 516v30h1v-30zM1003 456v89h1v-89zM1004 393v122h1v-122zM1005 356v98h1v-98zM1006 354v37h1v-37zM1007 354v60h1v-60zM1008 366v113h1v-113zM1009 416v114h1v-114zM1010 481v62h1v-62zM1011 507v36h1v-36zM1012 446v95h1v-95zM1013 387v119h1v-119zM1014 357v87h1v-87zM1015 356v30h1v-30zM1016 356v68h1v-68zM1017 373v114h1v-114zM1018 426v106h1v-106zM1019 489v52h1v-52zM1020 498v43h1v-43zM1021 437v99h1v-99zM1022 382v115h1v-115zM1023 358v78h1v-78zM1024 358v23h1v-23zM1025 358v75h1v-75zM1026 380v115h1v-115zM1027 435v99h1v-99zM1028 496v43h1v-43zM1029 490v49h1v-49zM1030 429v103h1v-103zM1031 377v112h1v-112zM1032 359v68h1v-68zM1033 359v27h1v-27zM1034 360v82h1v-82zM1035 387v114h1v-114zM1036 444v92h1v-92zM1037 502v37h1v-37zM1038 482v57h1v-57zM1039 421v106h1v-106zM1040 373v108h1v-108zM1041 360v60h1v-60zM1042 360v33h1v-33zM1043 362v88h1v-88zM1044 394v60h1v-60zM1045 452v2h1v-2z"/>
<path fill="#ff0000" d="M150 448v2h1v-2zM151 448v2h1v-2zM152 448v2h1v-2zM153 448v2h1v-2zM154 448v2h1v-2zM155 448v2h1v-2zM156 448v2h1v-2zM157 448v2h1v-2zM158 448v2h1v-2zM159 448v2h1v-2zM160 448v2h1v-2zM161 448v2h1v-2zM162 448v2h1v-2zM163 448v2h1v-2zM164 448v2h1v-2zM165 448v2h1v-2zM166 448v2h1v-2zM167 448v2h1v-2zM168 448v2h1v-2zM169 448v2h1v-2zM170 448v2h1v-2zM171 448v2h1v-2zM172 448v2h1v-2zM173 448v2h1v-2zM174 448v2h1v-2zM175 448v2h1v-2zM176 448v2h1v-2zM177 448v2h1v-2zM178 448v2h1v-2zM179 448v2h1v-2zM180 448v2h1v-2zM181 448v2h1v-2zM182 448v2h1v-2zM183 448v2h1v-2zM184 448v2h1v-2zM185 448v2h1v-2zM186 448v2h1v-2zM187 448v2h1v-2zM188 448v2h1v-2zM189 448v2h1v-2zM190 448v2h1v-2zM191 448v2h1v-2zM192 448v2h1v-2zM193 448v6h1v-6zM194 448v70h1v-70zM195 453v162h1v-162zM196 522v161h1v-161zM197 619v72h1v-72zM198 588v103h1v-103zM199 453v221h1v-221zM200 326v256h1v-256zM201 260v186h1v-186zM202 256v66h1v-66zM203 256v115h1v-115zM204 281v215h1v-215zM205 377v221h1v-221zM206 502v130h1v-130zM207 580v52h1v-52zM208 470v161h1v-161zM209 347v229h1v-229zM210 267v197h1v-197zM211 255v88h1v-88zM212 255v88h1v-88zM213 267v198h1v-198zM214 348v232h1v-232zM215 471v166h1v-166zM216 583v55h1v-55zM217 513v125h1v-125zM218 390v217h1v-217zM219 293v215h1v-215zM220 266v118h1v-118zM221 266v60h1v-60zM222 268v172h1v-172zM223 329v234h1v-234zM224 446v195h1v-195zM225 568v83h1v-83zM226 557v94h1v-94zM227 435v201h1v-201zM228 324v229h1v-229zM229 274v155h1v-155zM230 274v47h1v-47zM231 274v141h1v-141zM232 314v229h1v-229zM233 421v218h1v-218zM234 549v113h1v-113zM235 592v70h1v-70zM236 472v185h1v-185zM237 349v239h1v-239zM238 278v188h1v-188zM239 273v71h1v-71zM240 273v113h1v-113zM241 296v220h1v-220zM242 392v233h1v-233zM243 522v143h1v-143zM244 616v49h1v-49zM245 502v163h1v-163zM246 371v241h1v-241zM247 281v214h1v-214zM248 265v101h1v-101zM249 265v83h1v-83zM250 274v200h1v-200zM251 353v241h1v-241zM252 480v176h1v-176zM253 598v60h1v-60zM254 529v129h1v-129zM255 396v231h1v-231zM256 288v235h1v-235zM257 252v138h1v-138zM258 252v53h1v-53zM259 253v168h1v-168zM260 309v240h1v-240zM261 427v206h1v-206zM262 554v91h1v-91zM263 549v96h1v-96zM264 418v213h1v-213zM265 296v248h1v-248zM266 237v174h1v-174zM267 235v57h1v-57zM268 235v137h1v-137zM269 271v233h1v-233zM270 378v227h1v-227zM271 510v122h1v-122zM272 566v66h1v-66zM273 445v183h1v-183zM274 319v242h1v-242zM275 244v194h1v-194zM276 237v77h1v-77zM277 237v110h1v-110zM278 258v220h1v-220zM279 352v240h1v-240zM280 484v155h1v-155zM281 595v44h1v-44zM282 490v149h1v-149zM283 363v231h1v-231zM284 274v210h1v-210zM285 256v102h1v-102zM286 256v80h1v-80zM287 264v196h1v-196zM288 341v240h1v-240zM289 466v181h1v-181zM290 585v65h1v-65zM291 531v119h1v-119zM292 403v221h1v-221zM293 299v227h1v-227zM294 263v135h1v-135zM295 263v51h1v-51zM296 264v160h1v-160zM297 317v230h1v-230zM298 430v198h1v-198zM299 552v88h1v-88zM300 554v86h1v-86zM301 433v196h1v-196zM302 322v227h1v-227zM303 267v161h1v-161zM304 265v53h1v-53zM305 265v120h1v-120zM306 296v204h1v-204zM307 390v199h1v-199zM308 505v111h1v-111zM309 566v50h1v-50zM310 469v145h1v-145zM311 366v197h1v-197zM312 301v163h1v-163zM313 292v70h1v-70zM314 292v74h1v-74zM315 303v159h1v-159zM316 369v178h1v-178zM317 466v121h1v-121zM318 550v37h1v-37zM319 495v92h1v-92zM320 412v150h1v-150zM321 351v141h1v-141zM322 335v74h1v-74zM323 335v36h1v-36zM324 337v97h1v-97zM325 372v125h1v-125zM326 436v98h1v-98zM327 499v39h1v-39zM328 494v44h1v-44zM329 444v86h1v-86zM330 403v90h1v-90zM331 386v57h1v-57zM332 386v17h1v-17zM333 386v43h1v-43zM334 398v65h1v-65zM335 429v58h1v-58zM336 463v29h1v-29zM337 477v15h1v-15zM338 454v37h1v-37zM339 432v45h1v-45zM340 420v34h1v-34zM341 419v14h1v-14zM342 419v16h1v-16zM343 422v29h1v-29zM344 434v31h1v-31zM345 450v21h1v-21zM346 464v7h1v-7zM347 454v17h1v-17zM348 441v25h1v-25zM349 432v23h1v-23zM350 430v12h1v-12zM351 430v9h1v-9zM352 431v20h1v-20zM353 438v24h1v-24zM354 450v17h1v-17zM355 461v6h1v-6zM356 452v15h1v-15zM357 440v24h1v-24zM358 432v21h1v-21zM359 431v10h1v-10zM360 431v10h1v-10zM361 432v21h1v-21zM362 440v23h1v-23zM363 452v15h1v-15zM364 461v6h1v-6zM365 450v17h1v-17zM366 438v24h1v-24zM367 431v20h1v-20zM368 431v9h1v-9zM369 431v12h1v-12zM370 433v22h1v-22zM371 442v23h1v-23zM372 454v13h1v-13zM373 459v8h1v-8zM374 447v20h1v-20zM375 436v24h1v-24zM376 431v18h1v-18zM377 430v8h1v-8zM378 430v16h1v-16zM379 434v24h1v-24zM380 444v22h1v-22zM381 457v11h1v-11zM382 457v11h1v-11zM383 445v22h1v-22zM384 434v24h1v-24zM385 430v16h1v-16zM386 430v7h1v-7zM387 430v18h1v-18zM388 435v25h1v-25zM389 447v20h1v-20zM390 459v9h1v-9zM391 455v13h1v-13zM392 443v23h1v-23zM393 433v23h1v-23zM394 430v14h1v-14zM395 430v8h1v-8zM396 430v20h1v-20zM397 437v25h1v-25zM398 449v19h1v-19zM399 461v7h1v-7zM400 453v15h1v-15zM401 440v25h1v-25zM402 431v23h1v-23zM403 430v12h1v-12zM404 430v10h1v-10zM405 431v21h1v-21zM406 439v25h1v-25zM407 451v17h1v-17zM408 462v6h1v-6zM409 451v17h1v-17zM410 438v26h1v-26zM411 430v22h1v-22zM412 429v11h1v-11zM413 429v13h1v-13zM414 431v24h1v-24zM415 441v24h1v-24zM416 454v15h1v-15zM417 464v18h1v-18zM418 465v34h1v-34zM419 373v126h1v-126zM420 255v224h1v-224zM421 229v137h1v-137zM422 229v80h1v-80zM423 235v211h1v-211zM424 314v270h1v-270zM425 453v208h1v-208zM426 589v77h1v-77zM427 533v133h1v-133zM428 387v250h1v-250zM429 267v259h1v-259zM430 227v153h1v-153zM431 227v61h1v-61zM432 228v191h1v-191zM433 293v269h1v-269zM434 426v227h1v-227zM435 568v97h1v-97zM436 555v110h1v-110zM437 411v237h1v-237zM438 282v267h1v-267zM439 226v178h1v-178zM440 225v53h1v-53zM441 225v167h1v-167zM442 274v264h1v-264zM443 399v244h1v-244zM444 544v120h1v-120zM445 576v88h1v-88zM446 436v220h1v-220zM447 299v272h1v-272zM448 227v202h1v-202zM449 223v71h1v-71zM450 223v142h1v-142zM451 257v255h1v-255zM452 372v257h1v-257zM453 519v145h1v-145zM454 596v68h1v-68zM455 461v200h1v-200zM456 318v273h1v-273zM457 231v223h1v-223zM458 222v91h1v-91zM459 222v117h1v-117zM460 242v243h1v-243zM461 346v266h1v-266zM462 492v171h1v-171zM463 613v50h1v-50zM464 488v175h1v-175zM465 341v268h1v-268zM466 239v242h1v-242zM467 220v115h1v-115zM468 220v94h1v-94zM469 230v226h1v-226zM470 319v273h1v-273zM471 463v197h1v-197zM472 596v67h1v-67zM473 515v148h1v-148zM474 367v259h1v-259zM475 251v257h1v-257zM476 218v142h1v-142zM477 218v71h1v-71zM478 221v203h1v-203zM479 294v273h1v-273zM480 431v222h1v-222zM481 572v90h1v-90zM482 543v119h1v-119zM483 396v245h1v-245zM484 268v268h1v-268zM485 217v172h1v-172zM486 217v49h1v-49zM487 217v174h1v-174zM488 270v268h1v-268zM489 398v243h1v-243zM490 544v117h1v-117zM491 570v91h1v-91zM492 428v224h1v-224zM493 291v273h1v-273zM494 219v202h1v-202zM495 215v71h1v-71zM496 215v142h1v-142zM497 248v257h1v-257zM498 364v261h1v-261zM499 512v150h1v-150zM500 598v64h1v-64zM501 466v195h1v-195zM502 322v272h1v-272zM503 229v230h1v-230zM504 217v99h1v-99zM505 217v109h1v-109zM506 233v238h1v-238zM507 332v272h1v-272zM508 478v188h1v-188zM509 608v59h1v-59zM510 510v157h1v-157zM511 363v262h1v-262zM512 250v253h1v-253zM513 221v135h1v-135zM514 221v74h1v-74zM515 225v207h1v-207zM516 300v277h1v-277zM517 440v225h1v-225zM518 582v92h1v-92zM519 558v116h1v-116zM520 412v243h1v-243zM521 282v270h1v-270zM522 227v177h1v-177zM523 226v52h1v-52zM524 226v172h1v-172zM525 277v271h1v-271zM526 405v252h1v-252zM527 555v127h1v-127zM528 598v84h1v-84zM529 456v219h1v-219zM530 315v277h1v-277zM531 236v213h1v-213zM532 231v78h1v-78zM533 231v137h1v-137zM534 261v258h1v-258zM535 375v268h1v-268zM536 526v161h1v-161zM537 627v60h1v-60zM538 494v192h1v-192zM539 346v276h1v-276zM540 247v240h1v-240zM541 232v107h1v-107zM542 232v103h1v-103zM543 246v235h1v-235zM544 342v275h1v-275zM545 489v193h1v-193zM546 622v61h1v-61zM547 525v158h1v-158zM548 373v268h1v-268zM549 257v261h1v-261zM550 224v142h1v-142zM551 224v74h1v-74zM552 228v207h1v-207zM553 303v276h1v-276zM554 442v222h1v-222zM555 584v88h1v-88zM556 548v124h1v-124zM557 398v251h1v-251zM558 268v273h1v-273zM559 215v176h1v-176zM560 215v50h1v-50zM561 215v176h1v-176zM562 269v271h1v-271zM563 399v245h1v-245zM564 546v118h1v-118zM565 570v94h1v-94zM566 427v227h1v-227zM567 288v277h1v-277zM568 217v202h1v-202zM569 214v69h1v-69zM570 214v148h1v-148zM571 250v263h1v-263zM572 369v263h1v-263zM573 520v148h1v-148zM574 600v68h1v-68zM575 465v200h1v-200zM576 322v273h1v-273zM577 235v223h1v-223zM578 226v90h1v-90zM579 226v119h1v-119zM580 247v246h1v-246zM581 352v270h1v-270zM582 501v174h1v-174zM583 626v49h1v-49zM584 503v172h1v-172zM585 357v266h1v-266zM586 254v242h1v-242zM587 235v115h1v-115zM588 235v91h1v-91zM589 244v222h1v-222zM590 331v270h1v-270zM591 473v198h1v-198zM592 606v67h1v-67zM593 530v143h1v-143zM594 385v254h1v-254zM595 270v254h1v-254zM596 175v203h1v-203zM597 149v118h1v-118zM598 149v171h1v-171zM599 174v367h1v-367zM600 330v399h1v-399zM601 552v247h1v-247zM602 718v81h1v-81zM603 525v273h1v-273zM604 303v408h1v-408zM605 150v363h1v-363zM606 121v172h1v-172zM607 121v138h1v-138zM608 136v333h1v-333zM609 268v405h1v-405zM610 481v298h1v-298zM611 681v103h1v-103zM612 579v205h1v-205zM613 363v374h1v-374zM614 187v381h1v-381zM615 129v223h1v-223zM616 129v86h1v-86zM617 130v272h1v-272zM618 222v388h1v-388zM619 414v333h1v-333zM620 620v149h1v-149zM621 626v143h1v-143zM622 424v326h1v-326zM623 235v382h1v-382zM624 142v271h1v-271zM625 139v89h1v-89zM626 139v205h1v-205zM627 191v356h1v-356zM628 354v353h1v-353zM629 558v196h1v-196zM630 664v90h1v-90zM631 482v269h1v-269zM632 287v369h1v-369zM633 163v309h1v-309zM634 147v131h1v-131zM635 147v146h1v-146zM636 169v318h1v-318zM637 301v364h1v-364zM638 498v250h1v-250zM639 671v78h1v-78zM640 541v208h1v-208zM641 344v349h1v-349zM642 193v338h1v-338zM643 151v183h1v-183zM644 151v94h1v-94zM645 155v270h1v-270zM646 252v363h1v-363zM647 435v298h1v-298zM648 623v124h1v-124zM649 598v149h1v-149zM650 405v317h1v-317zM651 231v358h1v-358zM652 153v242h1v-242zM653 152v73h1v-73zM654 152v213h1v-213zM655 212v350h1v-350zM656 375v335h1v-335zM657 571v177h1v-177zM658 647v101h1v-101zM659 466v275h1v-275zM660 277v363h1v-363zM661 165v290h1v-290zM662 154v115h1v-115zM663 154v159h1v-159zM664 183v324h1v-324zM665 322v356h1v-356zM666 518v232h1v-232zM667 684v66h1v-66zM668 525v225h1v-225zM669 329v354h1v-354zM670 187v328h1v-328zM671 155v165h1v-165zM672 155v111h1v-111zM673 165v286h1v-286zM674 274v363h1v-363zM675 461v281h1v-281zM676 644v105h1v-105zM677 580v169h1v-169zM678 386v329h1v-329zM679 221v349h1v-349zM680 159v217h1v-217zM681 159v70h1v-70zM682 160v236h1v-236zM683 235v354h1v-354zM684 406v316h1v-316zM685 598v150h1v-150zM686 628v120h1v-120zM687 444v291h1v-291zM688 264v356h1v-356zM689 168v265h1v-265zM690 163v94h1v-94zM691 163v181h1v-181zM692 205v332h1v-332zM693 353v341h1v-341zM694 546v201h1v-201zM695 670v77h1v-77zM696 500v246h1v-246zM697 311v352h1v-352zM698 186v304h1v-304zM699 167v136h1v-136zM700 167v131h1v-131zM701 184v300h1v-300zM702 306v352h1v-352zM703 494v249h1v-249zM704 664v81h1v-81zM705 550v195h1v-195zM706 359v336h1v-336zM707 211v330h1v-330zM708 168v182h1v-182zM709 168v90h1v-90zM710 172v260h1v-260zM711 265v351h1v-351zM712 442v287h1v-287zM713 624v118h1v-118zM714 594v148h1v-148zM715 407v310h1v-310zM716 240v346h1v-346zM717 168v229h1v-229zM718 168v66h1v-66zM719 168v214h1v-214zM720 230v341h1v-341zM721 391v317h1v-317zM722 580v159h1v-159zM723 631v108h1v-108zM724 452v278h1v-278zM725 273v351h1v-351zM726 173v269h1v-269zM727 166v100h1v-100zM728 166v168h1v-168zM729 202v320h1v-320zM730 343v335h1v-335zM731 532v201h1v-201zM732 660v73h1v-73zM733 495v237h1v-237zM734 309v345h1v-345zM735 185v300h1v-300zM736 165v136h1v-136zM737 165v128h1v-128zM738 182v293h1v-293zM739 301v344h1v-344zM740 484v243h1v-243zM741 651v78h1v-78zM742 534v195h1v-195zM743 346v332h1v-332zM744 202v323h1v-323zM745 163v174h1v-174zM746 163v93h1v-93zM747 168v261h1v-261zM748 263v346h1v-346zM749 439v277h1v-277zM750 617v109h1v-109zM751 571v155h1v-155zM752 384v313h1v-313zM753 224v338h1v-338zM754 162v213h1v-213zM755 162v65h1v-65zM756 162v226h1v-226zM757 233v341h1v-341zM758 398v304h1v-304zM759 583v143h1v-143zM760 605v121h1v-121zM761 425v287h1v-287zM762 253v344h1v-344zM763 168v247h1v-247zM764 166v81h1v-81zM765 166v189h1v-189zM766 213v329h1v-329zM767 364v323h1v-323zM768 551v177h1v-177zM769 637v91h1v-91zM770 465v258h1v-258zM771 286v344h1v-344zM772 179v276h1v-276zM773 169v109h1v-109zM774 169v156h1v-156zM775 199v312h1v-312zM776 334v336h1v-336zM777 520v210h1v-210zM778 664v66h1v-66zM779 503v227h1v-227zM780 319v339h1v-339zM781 195v298h1v-298zM782 174v137h1v-137zM783 174v125h1v-125zM784 190v290h1v-290zM785 307v342h1v-342zM786 489v241h1v-241zM787 655v77h1v-77zM788 538v194h1v-194zM789 352v329h1v-329zM790 212v316h1v-316zM791 177v166h1v-166zM792 177v98h1v-98zM793 184v263h1v-263zM794 282v341h1v-341zM795 457v265h1v-265zM796 630v99h1v-99zM797 565v164h1v-164zM798 380v315h1v-315zM799 227v329h1v-329zM800 174v197h1v-197zM801 174v74h1v-74zM802 175v235h1v-235zM803 254v337h1v-337zM804 420v287h1v-287zM805 599v124h1v-124zM806 589v134h1v-134zM807 408v295h1v-295zM808 245v336h1v-336zM809 172v227h1v-227zM810 172v67h1v-67zM811 172v204h1v-204zM812 230v329h1v-329zM813 385v306h1v-306zM814 567v153h1v-153zM815 614v106h1v-106zM816 440v271h1v-271zM817 269v337h1v-337zM818 177v253h1v-253zM819 173v89h1v-89zM820 173v173h1v-173zM821 213v316h1v-316zM822 355v320h1v-320zM823 538v182h1v-182zM824 639v81h1v-81zM825 475v243h1v-243zM826 298v335h1v-335zM827 189v276h1v-276zM828 177v114h1v-114zM829 177v142h1v-142zM830 201v297h1v-297zM831 327v329h1v-329zM832 508v212h1v-212zM833 661v59h1v-59zM834 508v212h1v-212zM835 329v327h1v-327zM836 203v296h1v-296zM837 180v141h1v-141zM838 180v113h1v-113zM839 192v275h1v-275zM840 301v332h1v-332zM841 476v241h1v-241zM842 639v80h1v-80zM843 540v179h1v-179zM844 360v315h1v-315zM845 221v310h1v-310zM846 183v169h1v-169zM847 183v87h1v-87zM848 187v247h1v-247zM849 277v329h1v-329zM850 444v263h1v-263zM851 613v103h1v-103zM852 568v148h1v-148zM853 392v296h1v-296zM854 241v319h1v-319zM855 185v198h1v-198zM856 185v64h1v-64zM857 185v216h1v-216zM858 254v322h1v-322zM859 411v282h1v-282zM860 583v129h1v-129zM861 593v119h1v-119zM862 423v274h1v-274zM863 265v321h1v-321zM864 189v225h1v-225zM865 188v71h1v-71zM866 188v183h1v-183zM867 237v307h1v-307zM868 379v295h1v-295zM869 552v155h1v-155zM870 616v91h1v-91zM871 457v244h1v-244zM872 294v316h1v-316zM873 202v246h1v-246zM874 195v92h1v-92zM875 195v148h1v-148zM876 225v286h1v-286zM877 351v299h1v-299zM878 519v179h1v-179zM879 632v66h1v-66zM880 486v211h1v-211zM881 324v303h1v-303zM882 220v257h1v-257zM883 206v111h1v-111zM884 206v118h1v-118zM885 223v259h1v-259zM886 331v293h1v-293zM887 490v195h1v-195zM888 628v57h1v-57zM889 507v178h1v-178zM890 352v281h1v-281zM891 243v257h1v-257zM892 222v124h1v-124zM893 222v93h1v-93zM894 231v227h1v-227zM895 321v274h1v-274zM896 466v197h1v-197zM897 600v65h1v-65zM898 520v145h1v-145zM899 379v250h1v-250zM900 272v242h1v-242zM901 245v128h1v-128zM902 245v72h1v-72zM903 249v193h1v-193zM904 321v247h1v-247zM905 449v187h1v-187zM906 572v68h1v-68zM907 522v118h1v-118zM908 398v216h1v-216zM909 300v217h1v-217zM910 272v120h1v-120zM911 272v56h1v-56zM912 274v161h1v-161zM913 332v212h1v-212zM914 440v166h1v-166zM915 547v64h1v-64zM916 517v94h1v-94zM917 412v180h1v-180zM918 328v185h1v-185zM919 301v107h1v-107zM920 301v44h1v-44zM921 302v130h1v-130zM922 347v178h1v-178zM923 436v143h1v-143zM924 528v57h1v-57zM925 509v76h1v-76zM926 422v149h1v-149zM927 350v156h1v-156zM928 325v93h1v-93zM929 325v34h1v-34zM930 325v107h1v-107zM931 361v149h1v-149zM932 435v124h1v-124zM933 513v51h1v-51zM934 503v61h1v-61zM935 428v126h1v-126zM936 363v138h1v-138zM937 339v86h1v-86zM938 339v29h1v-29zM939 340v91h1v-91zM940 369v134h1v-134zM941 434v114h1v-114zM942 505v50h1v-50zM943 501v54h1v-54zM944 431v116h1v-116zM945 370v129h1v-129zM946 345v84h1v-84zM947 345v26h1v-26zM948 345v86h1v-86zM949 371v128h1v-128zM950 433v111h1v-111zM951 501v50h1v-50zM952 500v51h1v-51zM953 433v111h1v-111zM954 372v127h1v-127zM955 347v83h1v-83zM956 347v24h1v-24zM957 347v83h1v-83zM958 372v127h1v-127zM959 433v111h1v-111zM960 501v50h1v-50zM961 499v52h1v-52zM962 431v113h1v-113zM963 370v127h1v-127zM964 346v82h1v-82zM965 346v27h1v-27zM966 347v87h1v-87zM967 374v129h1v-129zM968 436v111h1v-111zM969 504v48h1v-48zM970 495v57h1v-57zM971 425v118h1v-118zM972 366v127h1v-127zM973 346v77h1v-77zM974 346v32h1v-32zM975 347v95h1v-95zM976 379v131h1v-131zM977 445v104h1v-104zM978 512v40h1v-40zM979 486v66h1v-66zM980 415v123h1v-123zM981 360v124h1v-124zM982 346v67h1v-67zM983 346v40h1v-40zM984 349v104h1v-104zM985 387v131h1v-131zM986 455v95h1v-95zM987 520v31h1v-31zM988 474v77h1v-77zM989 405v126h1v-126zM990 357v115h1v-115zM991 349v54h1v-54zM992 349v48h1v-48zM993 355v109h1v-109zM994 399v125h1v-125zM995 467v81h1v-81zM996 522v26h1v-26zM997 463v85h1v-85zM998 397v124h1v-124zM999 356v105h1v-105zM1000 352v43h1v-43zM1001 352v56h1v-56zM1002 361v113h1v-113zM1003 409v119h1v-119zM1004 476v69h1v-69zM1005 513v32h1v-32zM1006 453v91h1v-91zM1007 391v121h1v-121zM1008 356v95h1v-95zM1009 355v34h1v-34zM1010 355v63h1v-63zM1011 369v113h1v-113zM1012 420v111h1v-111zM1013 484v58h1v-58zM1014 504v38h1v-38zM1015 443v96h1v-96zM1016 385v118h1v-118zM1017 357v84h1v-84zM1018 357v27h1v-27zM1019 357v70h1v-70zM1020 376v114h1v-114zM1021 429v104h1v-104zM1022 491v49h1v-49zM1023 496v44h1v-44zM1024 435v100h1v-100zM1025 380v114h1v-114zM1026 358v75h1v-75zM1027 358v24h1v-24zM1028 359v77h1v-77zM1029 383v114h1v-114zM1030 438v97h1v-97zM1031 498v41h1v-41zM1032 488v51h1v-51zM1033 426v104h1v-104zM1034 376v110h1v-110zM1035 359v66h1v-66zM1036 359v29h1v-29zM1037 360v85h1v-85zM1038 389v114h1v-114zM1039 446v90h1v-90zM1040 504v34h1v-34zM1041 480v58h1v-58zM1042 419v107h1v-107zM1043 372v106h1v-106zM1044 370v47h1v-47zM1045 370v2h1v-2z"/>
</g>
<g fill="#000">
<text x="146.2" y="80.5" text-anchor="end" class="sans" font-size="32.3" stroke="#000" stroke-width="0.5">2.5</text>
<text x="146.2" y="155.5" text-anchor="end" class="sans" font-size="32.3" stroke="#000" stroke-width="0.5">2</text>
<text x="146.2" y="231.5" text-anchor="end" class="sans" font-size="32.3" stroke="#000" stroke-width="0.5">1.5</text>
<text x="146.2" y="307.5" text-anchor="end" class="sans" font-size="32.3" stroke="#000" stroke-width="0.5">1</text>
<text x="146.2" y="383.5" text-anchor="end" class="sans" font-size="32.3" stroke="#000" stroke-width="0.5">0.5</text>
<text x="146.2" y="459.5" text-anchor="end" class="sans" font-size="32.3" stroke="#000" stroke-width="0.5">0</text>
<text x="146.2" y="535.5" text-anchor="end" class="sans" font-size="32.3" stroke="#000" stroke-width="0.5">-0.5</text>
<text x="146.2" y="611.5" text-anchor="end" class="sans" font-size="32.3" stroke="#000" stroke-width="0.5">-1</text>
<text x="146.2" y="687.5" text-anchor="end" class="sans" font-size="32.3" stroke="#000" stroke-width="0.5">-1.5</text>
<text x="146.2" y="763.5" text-anchor="end" class="sans" font-size="32.3" stroke="#000" stroke-width="0.5">-2</text>
<text x="146.2" y="839.5" text-anchor="end" class="sans" font-size="32.3" stroke="#000" stroke-width="0.5">-2.5</text>
<text x="150.1" y="860.5" text-anchor="middle" class="sans" font-size="32.3" stroke="#000" stroke-width="0.5">0</text>
<text x="373.6" y="860.5" text-anchor="middle" class="sans" font-size="32.3" stroke="#000" stroke-width="0.5">0.5</text>
<text x="597.1" y="860.5" text-anchor="middle" class="sans" font-size="32.3" stroke="#000" stroke-width="0.5">1</text>
<text x="821.6" y="860.5" text-anchor="middle" class="sans" font-size="32.3" stroke="#000" stroke-width="0.5">1.5</text>
<text x="1045.1" y="860.5" text-anchor="middle" class="sans" font-size="32.3" stroke="#000" stroke-width="0.5">2</text>
<text transform="translate(595.4,882.3) scale(1.07,1)" x="0" y="0" text-anchor="middle" class="sans" font-size="29" font-style="italic" stroke="#000" stroke-width="0.5">t(s)</text>
<g transform="translate(87.5,509) rotate(-90)"><text x="0" y="0" class="serif" font-size="43" font-style="italic" font-weight="bold" stroke="#fff" stroke-width="0.4">i</text><text x="21" y="5.2" class="sans" font-size="31.5" font-weight="bold" stroke="#fff" stroke-width="0.3">(p.u.)</text></g>
</g>
<g shape-rendering="crispEdges">
<rect x="867.5" y="71.5" width="177" height="116" fill="#fff" stroke="#000" stroke-width="1"/>
</g>
<g fill="#000" shape-rendering="crispEdges">
<rect x="885" y="92" width="56" height="2" fill="#00ff00"/>
<text x="945.6" y="104.5" class="serif" font-size="38" font-style="italic" stroke="#000" stroke-width="0.6">i</text>
<text x="959.3" y="103.5" class="sans" font-size="32" stroke="#000" stroke-width="0.5">aSG</text>
<rect x="885" y="128" width="56" height="2" fill="#0000ff"/>
<text x="945.6" y="141" class="serif" font-size="38" font-style="italic" stroke="#000" stroke-width="0.6">i</text>
<text x="959.3" y="140" class="sans" font-size="32" stroke="#000" stroke-width="0.5">bSG</text>
<rect x="885" y="165" width="56" height="2" fill="#ff0000"/>
<text x="945.6" y="172" class="serif" font-size="38" font-style="italic" stroke="#000" stroke-width="0.6">i</text>
<text x="959.3" y="176" class="sans" font-size="32" stroke="#000" stroke-width="0.5">cSG</text>
</g>
</svg>
</body></html>
